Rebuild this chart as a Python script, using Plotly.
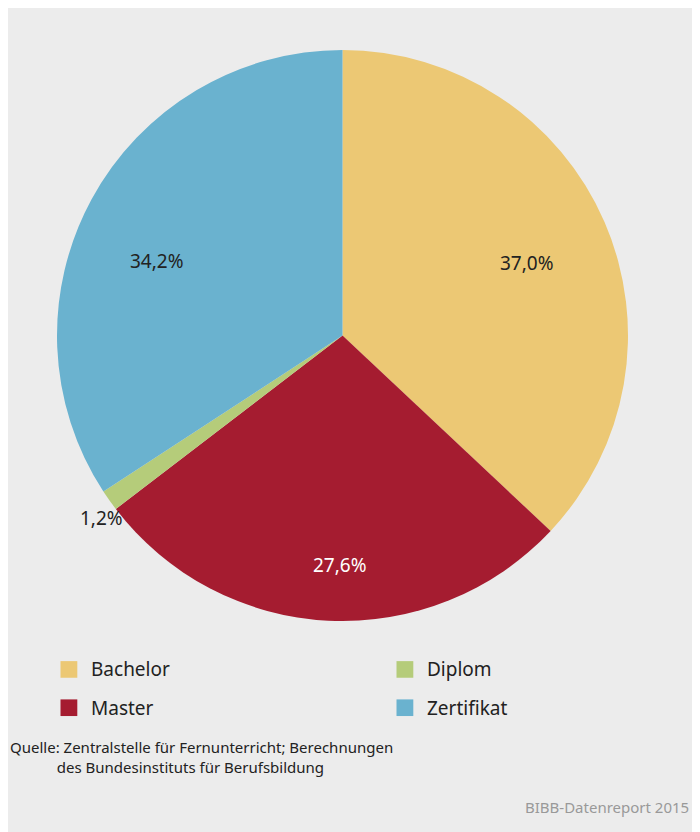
import plotly.graph_objects as go

# Data
labels = ['Bachelor', 'Master', 'Diplom', 'Zertifikat']
values = [37.0, 27.6, 1.2, 34.2]
colors = ['#ecc874', '#a51c30', '#b5cc7a', '#6ab2cf']
text_labels = ['37,0%', '27,6%', '1,2%', '34,2%']
label_colors = ['#222222', '#ffffff', '#222222', '#222222']

W, H = 700, 832
fig = go.Figure(go.Pie(
    labels=labels, values=values, sort=False, direction='clockwise', rotation=0,
    marker=dict(colors=colors), textinfo='none',
    domain=dict(x=[49/W, 620/W], y=[1 - 613/H, 1 - 42/H]),
    showlegend=False, hoverinfo='label+percent',
))

# Slice labels placed like the original (pixel positions of label centres)
label_px = [(548, 240), (332, 572), (70, 510), (120, 238)]
for (px_, py_), t, c in zip(label_px, text_labels, label_colors):
    fig.add_annotation(x=px_ / W, y=1 - py_ / H, xref='paper', yref='paper', text=t,
                       showarrow=False, font=dict(size=19, color=c, family='Noto Sans'))

# Hand-made two-column legend
legend_pos = [(0.075, 0.205), (0.075, 0.159), (0.555, 0.205), (0.555, 0.159)]
for (x, y), name, col in zip(legend_pos, labels, colors):
    fig.add_shape(type='rect', xref='paper', yref='paper',
                  x0=x, x1=x + 0.024, y0=y - 0.01, y1=y + 0.01,
                  fillcolor=col, line_width=0)
    fig.add_annotation(x=x + 0.04, y=y, xref='paper', yref='paper', text=name,
                       showarrow=False, xanchor='left', yanchor='middle',
                       font=dict(size=19, color='#222222', family='Noto Sans'))

fig.add_annotation(x=0.0, y=0.1, xref='paper', yref='paper', align='left',
                   text='Quelle: Zentralstelle für Fernunterricht; Berechnungen<br>'
                        '            des Bundesinstituts für Berufsbildung',
                   showarrow=False, xanchor='left', yanchor='middle',
                   font=dict(size=15, color='#222222', family='Noto Sans'))
fig.add_annotation(x=0.975, y=0.025, xref='paper', yref='paper',
                   text='BIBB-Datenreport 2015', showarrow=False,
                   xanchor='right', yanchor='bottom',
                   font=dict(size=15, color='#999999', family='Noto Sans'))

fig.update_layout(width=W, height=H, margin=dict(l=0, r=0, t=0, b=0),
                  paper_bgcolor='#ececec', plot_bgcolor='#ececec')
fig.write_html('out.html')
